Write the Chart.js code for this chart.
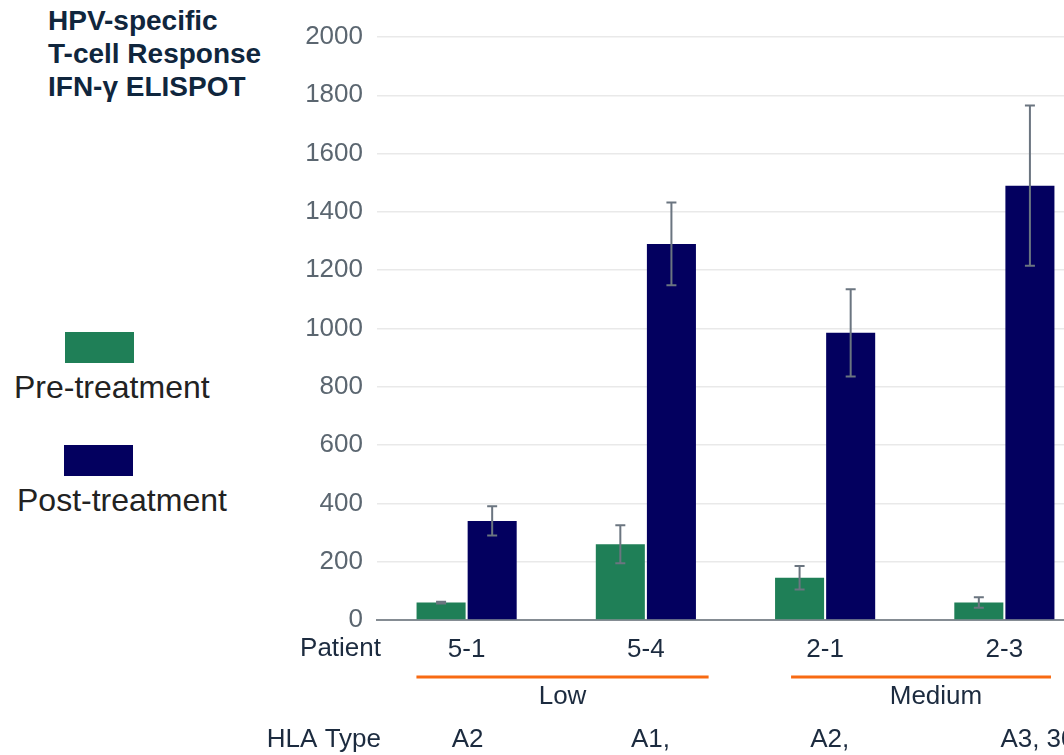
<!DOCTYPE html>
<html>
<head>
<meta charset="utf-8">
<script src="https://cdn.jsdelivr.net/npm/chart.js@4.4.1/dist/chart.umd.min.js"></script>
<style>
    html, body { margin: 0; padding: 0; background: #ffffff; overflow: hidden; }
    body { width: 1064px; height: 755px; position: relative; font-family: "Liberation Sans", Arial, sans-serif; }
    #chart-box { position: absolute; left: 0; top: 0; width: 1100px; height: 755px; }
    .title { position: absolute; left: 48px; top: 4px; font-weight: bold; font-size: 28px; line-height: 33px; color: #10263d; }
    .legend-swatch { position: absolute; width: 69px; height: 31px; }
    .legend-text { position: absolute; font-size: 32px; color: #222222; white-space: nowrap; }
</style>
</head>
<body>
<div class="title">HPV-specific<br>T-cell Response<br>IFN-γ ELISPOT</div>

<div class="legend-swatch" style="left:65px; top:332px; background:#1f7f57;"></div>
<div class="legend-text" style="left:14px; top:369px;">Pre-treatment</div>
<div class="legend-swatch" style="left:64px; top:445px; background:#03005f;"></div>
<div class="legend-text" style="left:17px; top:482px;">Post-treatment</div>

<div id="chart-box"><canvas id="chart" width="1100" height="755"></canvas></div>

<script>
// --- Chart data ---
const patients = ["5-1", "5-4", "2-1", "2-3"];
const hlaTypes = ["A2", "A1,", "A2,", "A3, 30"];
const preValues = [60, 260, 145, 60];
const preErrors = [3, 65, 40, 18];
const postValues = [340, 1290, 985, 1490];
const postErrors = [50, 142, 150, 275];
const groupNames = ["Low", "Medium"];
const groupStart = [0, 2];
const groupEnd = [1, 3];

const FONT = "'Liberation Sans', Arial, sans-serif";

// Error bars plus the extra rows under the x axis
const extrasPlugin = {
    id: "extras",
    afterDatasetsDraw(chart) {
        const ctx = chart.ctx;
        const y = chart.scales.y;
        const errs = [preErrors, postErrors];
        const vals = [preValues, postValues];
        ctx.save();
        ctx.strokeStyle = "#6b7580";
        ctx.lineWidth = 2;
        [0, 1].forEach(d => {
            chart.getDatasetMeta(d).data.forEach((bar, i) => {
                const top = y.getPixelForValue(vals[d][i] + errs[d][i]);
                const bot = y.getPixelForValue(vals[d][i] - errs[d][i]);
                ctx.beginPath();
                ctx.moveTo(bar.x, top); ctx.lineTo(bar.x, bot);
                ctx.moveTo(bar.x - 5, top); ctx.lineTo(bar.x + 5, top);
                ctx.moveTo(bar.x - 5, bot); ctx.lineTo(bar.x + 5, bot);
                ctx.stroke();
            });
        });
        ctx.restore();
    },
    afterDraw(chart) {
        const ctx = chart.ctx;
        const x = chart.scales.x;
        const w = x.getPixelForValue(1) - x.getPixelForValue(0);
        ctx.save();
        ctx.font = "26px " + FONT;
        ctx.fillStyle = "#1c2b3f";
        ctx.textBaseline = "middle";

        // row titles
        ctx.textAlign = "right";
        ctx.fillText("Patient", 381, 649);
        ctx.fillText("HLA Type", 381, 740);

        // group lines and names
        groupNames.forEach((name, g) => {
            const x0 = x.getPixelForValue(groupStart[g]) - (g === 0 ? 0.28 : 0.19) * w;
            const x1 = x.getPixelForValue(groupEnd[g]) + (g === 0 ? 0.35 : 0.26) * w;
            ctx.strokeStyle = "#f86a12";
            ctx.lineWidth = 3;
            ctx.beginPath();
            ctx.moveTo(x0, 677); ctx.lineTo(x1, 677);
            ctx.stroke();
            ctx.textAlign = "center";
            ctx.fillText(name, g === 0 ? (x0 + x1) / 2 : x1 - 115, 697);
        });

        // HLA row
        ctx.textAlign = "left";
        hlaTypes.forEach((t, i) => {
            const off = i === hlaTypes.length - 1 ? 4 : 15;
            ctx.fillText(t, x.getPixelForValue(i) - off, 740);
        });
        ctx.restore();
    }
};

const ctx = document.getElementById("chart").getContext("2d");
new Chart(ctx, {
    type: "bar",
    data: {
        labels: patients,
        datasets: [
            {
                label: "Pre-treatment",
                data: preValues,
                backgroundColor: "#1f7f57",
                categoryPercentage: 0.57,
                barPercentage: 0.96
            },
            {
                label: "Post-treatment",
                data: postValues,
                backgroundColor: "#03005f",
                categoryPercentage: 0.57,
                barPercentage: 0.96
            }
        ]
    },
    options: {
        responsive: false,
        devicePixelRatio: 1,
        animation: false,
        layout: { padding: { top: 37, right: 6, left: 0, bottom: 0 } },
        plugins: {
            legend: { display: false },
            tooltip: { enabled: false }
        },
        scales: {
            x: {
                afterFit: scale => { scale.height = 135; },
                grid: { display: false, drawTicks: false },
                border: { color: "#858c93", width: 2 },
                ticks: {
                    color: "#1c2b3f",
                    padding: 14,
                    font: { family: FONT, size: 26 }
                }
            },
            y: {
                min: 0,
                max: 2000,
                afterFit: scale => { scale.width = 377; },
                grid: { color: "#e9e9e9", lineWidth: 1.5, drawTicks: false },
                border: { display: false },
                ticks: {
                    stepSize: 200,
                    color: "#5b6670",
                    padding: 14,
                    font: { family: FONT, size: 26 },
                    callback: v => String(v)
                }
            }
        }
    },
    plugins: [extrasPlugin]
});
</script>
</body>
</html>
